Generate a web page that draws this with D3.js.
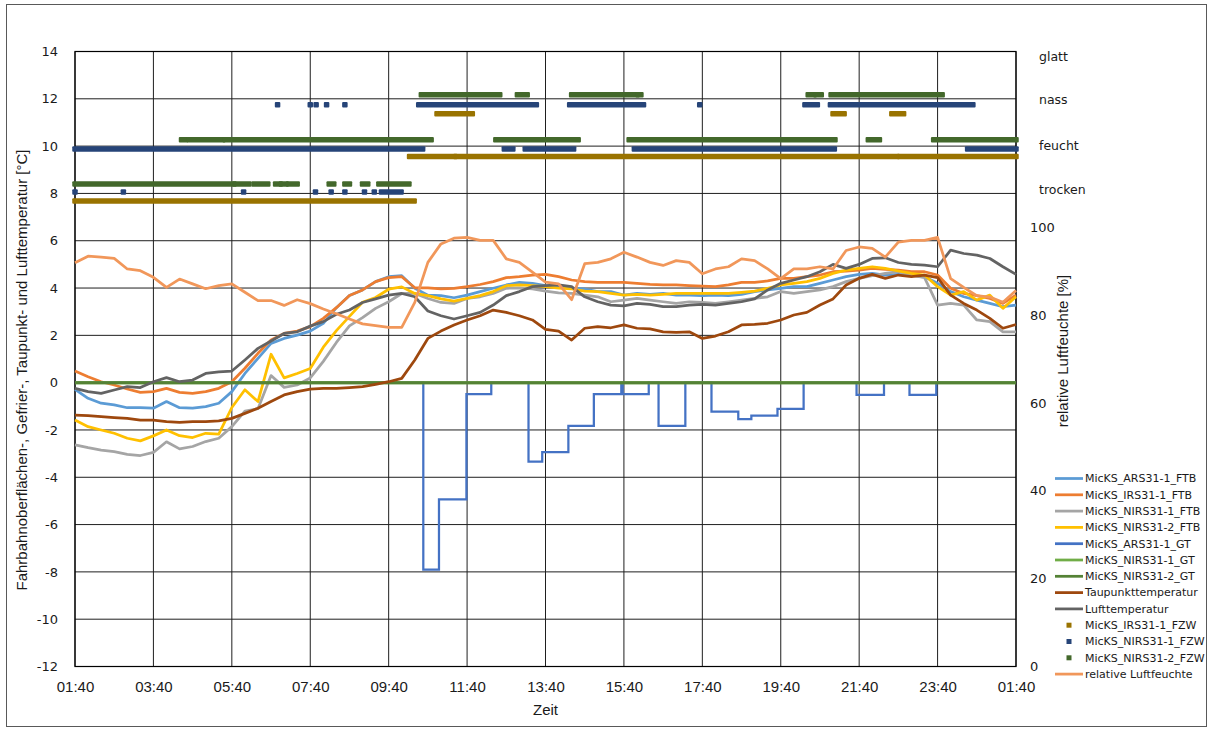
<!DOCTYPE html>
<html>
<head>
<meta charset="utf-8">
<script src="https://cdn.jsdelivr.net/npm/d3@7"></script>
<style>
  body { margin: 0; background: #fff; }
  svg { display: block; }
</style>
</head>
<body>
<svg id="chart" width="1210" height="729"></svg>
<script>
// ---- Messzeitpunkte (20-Minuten-Raster, 01:40 bis 01:40 des Folgetages) ----
const times = ["01:40","02:00","02:20","02:40","03:00","03:20","03:40","04:00","04:20","04:40","05:00","05:20","05:40","06:00","06:20","06:40","07:00","07:20","07:40",
  "08:00","08:20","08:40","09:00","09:20","09:40","10:00","10:20","10:40","11:00","11:20","11:40","12:00","12:20","12:40","13:00","13:20","13:40",
  "14:00","14:20","14:40","15:00","15:20","15:40","16:00","16:20","16:40","17:00","17:20","17:40","18:00","18:20","18:40","19:00","19:20","19:40",
  "20:00","20:20","20:40","21:00","21:20","21:40","22:00","22:20","22:40","23:00","23:20","23:40","00:00","00:20","00:40","01:00","01:20","01:40"];

// Fahrbahnoberflächentemperaturen [°C]
const arsFtb = [-0.28,-0.66,-0.87,-0.94,-1.06,-1.06,-1.08,-0.80,-1.06,-1.08,-1.01,-0.87,-0.38,0.39,1.03,1.66,1.87,2.01,2.18,
  2.51,3.17,3.68,3.92,4.27,4.48,4.52,3.99,3.70,3.68,3.59,3.70,3.85,3.99,4.13,4.24,4.20,4.10,
  4.06,3.99,3.96,3.85,3.85,3.70,3.77,3.73,3.77,3.70,3.70,3.68,3.70,3.68,3.73,3.85,3.92,3.99,
  4.06,4.06,4.20,4.34,4.48,4.58,4.62,4.55,4.58,4.55,4.48,4.20,3.85,3.63,3.49,3.35,3.21,3.28];
const irsFtb = [0.49,0.25,0.04,-0.10,-0.27,-0.41,-0.38,-0.24,-0.41,-0.45,-0.38,-0.24,0.04,0.61,1.24,1.80,2.08,2.18,2.37,
  2.72,3.17,3.68,3.92,4.27,4.44,4.48,4.01,4.01,3.96,3.99,4.06,4.15,4.27,4.44,4.48,4.55,4.58,
  4.48,4.34,4.27,4.24,4.24,4.24,4.20,4.15,4.13,4.13,4.10,4.08,4.06,4.13,4.24,4.24,4.30,4.41,
  4.41,4.48,4.55,4.69,4.72,4.76,4.83,4.79,4.76,4.69,4.69,4.55,3.99,3.77,3.68,3.56,3.35,3.70];
const nirs1Ftb = [-2.63,-2.75,-2.85,-2.92,-3.03,-3.08,-2.95,-2.50,-2.80,-2.70,-2.49,-2.35,-1.86,-1.20,-1.10,0.30,-0.20,-0.10,0.20,
  0.90,1.70,2.40,2.75,3.14,3.42,3.77,3.77,3.56,3.39,3.35,3.56,3.63,3.77,3.99,4.01,3.96,3.87,
  3.80,3.77,3.70,3.63,3.42,3.49,3.56,3.49,3.42,3.35,3.42,3.39,3.35,3.42,3.49,3.56,3.63,3.85,
  3.77,3.85,3.92,4.06,4.27,4.41,4.52,4.62,4.69,4.55,4.44,3.28,3.35,3.28,2.65,2.58,2.15,2.15];
const nirs2Ftb = [-1.58,-1.86,-2.00,-2.14,-2.35,-2.46,-2.25,-2.00,-2.24,-2.32,-2.14,-2.18,-1.05,-0.30,-0.80,1.20,0.20,0.39,0.60,
  1.50,2.20,2.80,3.40,3.60,3.95,4.05,3.77,3.68,3.54,3.45,3.56,3.68,3.85,4.10,4.13,4.10,4.06,
  4.00,3.96,3.87,3.85,3.77,3.70,3.73,3.70,3.73,3.77,3.77,3.77,3.77,3.77,3.82,3.87,3.99,4.13,
  4.20,4.27,4.41,4.62,4.76,4.83,4.90,4.83,4.72,4.62,4.55,4.06,3.70,3.85,3.49,3.70,3.14,3.63];

// Taupunkt- und Lufttemperatur [°C]
const taupunkt = [-1.37,-1.39,-1.44,-1.48,-1.51,-1.58,-1.58,-1.65,-1.68,-1.65,-1.65,-1.62,-1.51,-1.30,-1.08,-0.80,-0.52,-0.38,-0.27,
  -0.24,-0.24,-0.21,-0.17,-0.07,0.04,0.18,0.96,1.87,2.18,2.44,2.65,2.83,3.07,2.97,2.83,2.65,2.25,
  2.18,1.80,2.30,2.37,2.32,2.44,2.30,2.27,2.15,2.13,2.15,1.87,1.97,2.15,2.44,2.46,2.51,2.65,
  2.86,2.97,3.28,3.54,4.13,4.41,4.58,4.41,4.55,4.48,4.55,4.44,3.70,3.35,3.07,2.72,2.30,2.46];
const luft = [-0.24,-0.38,-0.45,-0.31,-0.17,-0.21,0.04,0.21,0.04,0.11,0.39,0.46,0.49,0.96,1.45,1.76,2.08,2.15,2.39,
  2.58,2.89,3.07,3.39,3.54,3.70,3.77,3.63,3.03,2.83,2.69,2.83,2.97,3.28,3.68,3.85,4.06,4.10,
  4.13,4.06,3.63,3.42,3.28,3.25,3.35,3.31,3.21,3.21,3.28,3.31,3.28,3.35,3.42,3.54,3.92,4.20,
  4.34,4.48,4.69,5.00,4.83,5.00,5.25,5.28,5.08,5.00,4.97,4.90,5.60,5.46,5.39,5.25,4.90,4.58];

// relative Luftfeuchte [%]
const humidity = [91.9,93.4,93.2,92.9,90.5,90.1,88.6,86.3,88.2,87.1,86.0,86.7,87.1,85.2,83.3,83.3,82.2,83.5,82.6,
  81.4,80.3,79.1,78.0,77.6,77.2,77.2,82.9,92.0,96.2,97.5,97.7,97.0,97.0,92.8,92.0,89.8,87.5,
  87.1,83.5,91.7,92.0,92.8,94.3,93.2,92.0,91.3,92.4,92.0,89.4,90.5,91.0,92.8,92.4,90.5,88.3,
  90.5,90.5,91.0,90.5,94.7,95.5,95.2,93.2,96.6,97.0,97.0,97.7,88.3,86.3,84.4,84.1,82.9,85.6];

// Gefriertemperaturen [°C] (Stufenwerte ab dem jeweiligen Zeitpunkt)
const arsGtTimes = ["01:40","10:33","10:57","11:39","12:17","13:14","13:35","14:15","14:54","15:36","15:38","16:18","16:33","17:14",
  "17:54","18:35","18:55","19:35","20:15","21:36","22:18","22:57","23:38","01:40"];
const arsGtValues = [0,-7.9,-4.93,-0.49,0,-3.34,-2.94,-1.83,-0.49,0,-0.49,0,-1.83,0,-1.23,-1.54,-1.39,-1.11,0,-0.52,0,-0.52,0,0];
const nirsGtTimes = ["01:40","01:40"];
const nirs1GtValues = [0, 0];
const nirs2GtValues = [0, 0];

// Fahrbahnzustand (FZW): Zeitabschnitte je Zustand, y-Wert des jeweiligen Zustandsbandes
const irsFzwLevels = { trocken: 7.68, feucht: 9.56, nass: 11.37 };
const irsFzw = [
  ["trocken","01:40","10:19"],
  ["feucht","10:12","11:21"],["feucht","11:23","22:38"],["feucht","22:42","01:40"],
  ["nass","10:54","11:48"],["nass","21:00","21:17"],["nass","22:30","22:48"]
];
const nirs1FzwLevels = { trocken: 8.06, feucht: 9.88, nass: 11.75 };
const nirs1Fzw = [
  ["trocken","01:40","01:40"],["trocken","02:54","02:54"],["trocken","05:58","05:58"],["trocken","07:48","07:48"],
  ["trocken","08:12","08:12"],["trocken","08:33","08:33"],["trocken","09:03","09:03"],["trocken","09:18","09:18"],["trocken","09:29","09:59"],
  ["feucht","01:40","10:32"],["feucht","12:37","12:50"],["feucht","13:09","14:23"],["feucht","15:56","21:02"],["feucht","00:26","01:40"],
  ["nass","06:50","06:50"],["nass","07:40","07:40"],["nass","07:49","07:49"],["nass","08:05","08:05"],["nass","08:33","08:33"],
  ["nass","10:26","13:26"],["nass","14:17","16:10"],["nass","17:36","17:36"],["nass","20:17","20:36"],["nass","20:56","00:34"]
];
const nirs2FzwLevels = { trocken: 8.40, feucht: 10.27, nass: 12.17 };
const nirs2Fzw = [
  ["trocken","01:40","05:43"],["trocken","05:45","06:06"],["trocken","06:14","06:35"],["trocken","06:47","06:54"],["trocken","06:56","07:03"],
  ["trocken","07:07","07:20"],["trocken","08:09","08:16"],["trocken","08:33","08:40"],["trocken","09:00","09:08"],["trocken","09:25","10:11"],
  ["feucht","04:23","04:29"],["feucht","04:35","05:26"],["feucht","05:30","10:45"],["feucht","12:24","14:30"],["feucht","15:48","21:03"],
  ["feucht","21:54","22:11"],["feucht","23:34","01:40"],
  ["nass","10:30","12:30"],["nass","12:57","13:12"],["nass","14:20","16:00"],["nass","16:02","16:06"],["nass","20:22","20:31"],
  ["nass","20:34","20:42"],["nass","20:57","23:47"]
];

// Achsbeschriftungen
const xTickLabels = ["01:40","03:40","05:40","07:40","09:40","11:40","13:40","15:40","17:40","19:40","21:40","23:40","01:40"];
const tempTicks = [-12,-10,-8,-6,-4,-2,0,2,4,6,8,10,12,14];
const humTicks = [0,20,40,60,80,100];
const stateNames = ["glatt","nass","feucht","trocken"];
const stateLabelValues = [13.78, 11.96, 10.0, 8.18];

// ---- Hilfsfunktionen für Uhrzeiten ----
const parseClock = d3.timeParse("%H:%M");
function clockMinutes(s) { const t = parseClock(s); return t.getHours() * 60 + t.getMinutes(); }
function makeDate(day, s) { const t = parseClock(s); return new Date(2000, 0, day, t.getHours(), t.getMinutes()); }
// fortlaufende Liste: Tageswechsel, sobald die Uhrzeit nicht weiter steigt
function toDates(list) {
  let day = 1, prev = -1;
  return list.map(s => { const m = clockMinutes(s); if (m <= prev) day++; prev = m; return makeDate(day, s); });
}
// Abschnitt [von, bis] innerhalb des Messzeitraums
function spanDates(from, to) {
  const start = makeDate(clockMinutes(from) < 100 ? 2 : 1, from);
  let end = makeDate(clockMinutes(to) < 100 ? 2 : 1, to);
  if (end < start || (end.getTime() === start.getTime() && from !== to)) end = makeDate(2, to);
  return [start, end];
}

// ---- Layout ----
const svg = d3.select("#chart");
const plot = { left: 75, right: 1016, top: 51.5, bottom: 666.5 };
const fontNarrow = "'Liberation Sans Narrow', 'Liberation Sans', Arial, sans-serif";
const fontTick = "'DejaVu Sans', Verdana, sans-serif";
const textColor = "#1a1a1a";

const dates = toDates(times);
const x = d3.scaleTime().domain([dates[0], dates[dates.length - 1]]).range([plot.left, plot.right]);
const yT = d3.scaleLinear().domain([-12, 14]).range([plot.bottom, plot.top]);
const yH = d3.scaleLinear().domain([0, 140]).range([plot.bottom, plot.top]);
const xTicks = toDates(xTickLabels);

// Rahmen des Diagrammbereichs
svg.append("rect").attr("x", 6.5).attr("y", 4.5).attr("width", 1200).attr("height", 722)
  .attr("fill", "#fff").attr("stroke", "#595959").attr("stroke-width", 1);

// Gitternetz
const grid = svg.append("g");
grid.selectAll("line.h").data(tempTicks).join("line")
  .attr("x1", plot.left).attr("x2", plot.right)
  .attr("y1", d => yT(d)).attr("y2", d => yT(d))
  .attr("stroke", "#1f1f1f").attr("stroke-width", 1);
grid.selectAll("line.v").data(xTicks).join("line")
  .attr("x1", d => x(d)).attr("x2", d => x(d))
  .attr("y1", plot.top).attr("y2", plot.bottom)
  .attr("stroke", "#1f1f1f").attr("stroke-width", 1);
svg.append("rect").attr("x", plot.left).attr("y", plot.top)
  .attr("width", plot.right - plot.left).attr("height", plot.bottom - plot.top)
  .attr("fill", "none").attr("stroke", "#000").attr("stroke-width", 1.2);

// Achsen
function styleAxis(g, family, size) {
  g.select(".domain").remove();
  g.attr("font-family", family).attr("font-size", size);
  g.selectAll("text").attr("fill", textColor);
}
svg.append("g").attr("transform", `translate(0,${plot.bottom})`)
  .call(d3.axisBottom(x).tickValues(xTicks).tickFormat(d3.timeFormat("%H:%M")).tickSize(0).tickPadding(15))
  .call(g => styleAxis(g, fontNarrow, 15));
svg.append("g").attr("transform", `translate(${plot.left},0)`)
  .call(d3.axisLeft(yT).tickValues(tempTicks).tickFormat(d => String(d)).tickSize(0).tickPadding(17))
  .call(g => styleAxis(g, fontTick, 13));
svg.append("g").attr("transform", `translate(${plot.right},0)`)
  .call(d3.axisRight(yH).tickValues(humTicks).tickFormat(d => String(d)).tickSize(0).tickPadding(14))
  .call(g => styleAxis(g, fontTick, 13));

// Zustandsbezeichnungen rechts
svg.append("g").selectAll("text").data(stateNames).join("text")
  .attr("x", 1039).attr("y", (d, i) => yT(stateLabelValues[i]))
  .attr("dy", "0.35em").attr("font-family", fontTick).attr("font-size", 12.5).attr("fill", textColor)
  .text(d => d);

// Achsentitel
svg.append("text").attr("transform", `translate(${(plot.left + plot.right) / 2},715)`)
  .attr("text-anchor", "middle").attr("font-family", fontNarrow).attr("font-size", 15).attr("fill", textColor)
  .text("Zeit");
svg.append("text").attr("transform", `translate(27,${(plot.top + plot.bottom) / 2 + 11}) rotate(-90)`)
  .attr("text-anchor", "middle").attr("font-family", fontNarrow).attr("font-size", 15).attr("fill", textColor)
  .text("Fahrbahnoberflächen-, Gefrier-, Taupunkt- und Lufttemperatur [°C]");
svg.append("text").attr("transform", `translate(1068,351) rotate(-90)`)
  .attr("text-anchor", "middle").attr("font-family", fontNarrow).attr("font-size", 15).attr("fill", textColor)
  .text("relative Luftfeuchte [%]");

// ---- Linien ----
const series = [
  { name: "MicKS_ARS31-1_FTB", color: "#5B9BD5", values: arsFtb, width: 2.75 },
  { name: "MicKS_IRS31-1_FTB", color: "#ED7D31", values: irsFtb, width: 2.75 },
  { name: "MicKS_NIRS31-1_FTB", color: "#A5A5A5", values: nirs1Ftb, width: 2.75 },
  { name: "MicKS_NIRS31-2_FTB", color: "#FFC000", values: nirs2Ftb, width: 2.75 }
];
const lineT = d3.line().x(d => x(d[0])).y(d => yT(d[1]));
const layer = svg.append("g");
series.forEach(s => {
  layer.append("path").datum(dates.map((d, i) => [d, s.values[i]]))
    .attr("d", lineT).attr("fill", "none").attr("stroke", s.color)
    .attr("stroke-width", s.width).attr("stroke-linejoin", "round");
});

const stepT = d3.line().x(d => x(d[0])).y(d => yT(d[1])).curve(d3.curveStepAfter);
const arsGtDates = toDates(arsGtTimes);
layer.append("path").datum(arsGtDates.map((d, i) => [d, arsGtValues[i]]))
  .attr("d", stepT).attr("fill", "none").attr("stroke", "#4472C4").attr("stroke-width", 2.25);
const nirsGtDates = toDates(nirsGtTimes);
[[nirs1GtValues, "#70AD47"], [nirs2GtValues, "#548235"]].forEach(([vals, c]) => {
  layer.append("path").datum(nirsGtDates.map((d, i) => [d, vals[i]]))
    .attr("d", stepT).attr("fill", "none").attr("stroke", c).attr("stroke-width", 3);
});

[[taupunkt, "#9E480E"], [luft, "#636363"]].forEach(([vals, c]) => {
  layer.append("path").datum(dates.map((d, i) => [d, vals[i]]))
    .attr("d", lineT).attr("fill", "none").attr("stroke", c)
    .attr("stroke-width", 2.75).attr("stroke-linejoin", "round");
});

// Fahrbahnzustand als Markerbänder
const markerSize = 5.5;
function drawFzw(spans, levels, color) {
  layer.append("g").selectAll("rect").data(spans).join("rect")
    .attr("x", d => x(spanDates(d[1], d[2])[0]) - markerSize / 2)
    .attr("width", d => x(spanDates(d[1], d[2])[1]) - x(spanDates(d[1], d[2])[0]) + markerSize)
    .attr("y", d => yT(levels[d[0]]) - markerSize / 2)
    .attr("height", markerSize).attr("rx", 1)
    .attr("fill", color);
}
drawFzw(irsFzw, irsFzwLevels, "#997300");
drawFzw(nirs1Fzw, nirs1FzwLevels, "#264478");
drawFzw(nirs2Fzw, nirs2FzwLevels, "#43682B");

// Luftfeuchte (Sekundärachse)
const lineH = d3.line().x(d => x(d[0])).y(d => yH(d[1]));
layer.append("path").datum(dates.map((d, i) => [d, humidity[i]]))
  .attr("d", lineH).attr("fill", "none").attr("stroke", "#F1975A")
  .attr("stroke-width", 2.75).attr("stroke-linejoin", "round");

// ---- Legende ----
const legendItems = [
  { name: "MicKS_ARS31-1_FTB", color: "#5B9BD5", kind: "line" },
  { name: "MicKS_IRS31-1_FTB", color: "#ED7D31", kind: "line" },
  { name: "MicKS_NIRS31-1_FTB", color: "#A5A5A5", kind: "line" },
  { name: "MicKS_NIRS31-2_FTB", color: "#FFC000", kind: "line" },
  { name: "MicKS_ARS31-1_GT", color: "#4472C4", kind: "line" },
  { name: "MicKS_NIRS31-1_GT", color: "#70AD47", kind: "line" },
  { name: "MicKS_NIRS31-2_GT", color: "#548235", kind: "line" },
  { name: "Taupunkttemperatur", color: "#9E480E", kind: "line" },
  { name: "Lufttemperatur", color: "#636363", kind: "line" },
  { name: "MicKS_IRS31-1_FZW", color: "#997300", kind: "marker" },
  { name: "MicKS_NIRS31-1_FZW", color: "#264478", kind: "marker" },
  { name: "MicKS_NIRS31-2_FZW", color: "#43682B", kind: "marker" },
  { name: "relative Luftfeuchte", color: "#F1975A", kind: "line" }
];
const legend = svg.append("g").attr("transform", "translate(1055,478.5)");
const rows = legend.selectAll("g").data(legendItems).join("g")
  .attr("transform", (d, i) => `translate(0,${i * 16.3})`);
rows.filter(d => d.kind === "line").append("line")
  .attr("x1", 0).attr("x2", 28).attr("y1", 0).attr("y2", 0)
  .attr("stroke", d => d.color).attr("stroke-width", 2.75);
rows.filter(d => d.kind === "marker").append("rect")
  .attr("x", 11.5).attr("y", -2.5).attr("width", 5).attr("height", 5).attr("fill", d => d.color);
rows.append("text").attr("x", 30).attr("y", 0).attr("dy", "0.35em")
  .attr("font-family", fontTick).attr("font-size", 11).attr("fill", textColor)
  .text(d => d.name);
</script>
</body>
</html>
